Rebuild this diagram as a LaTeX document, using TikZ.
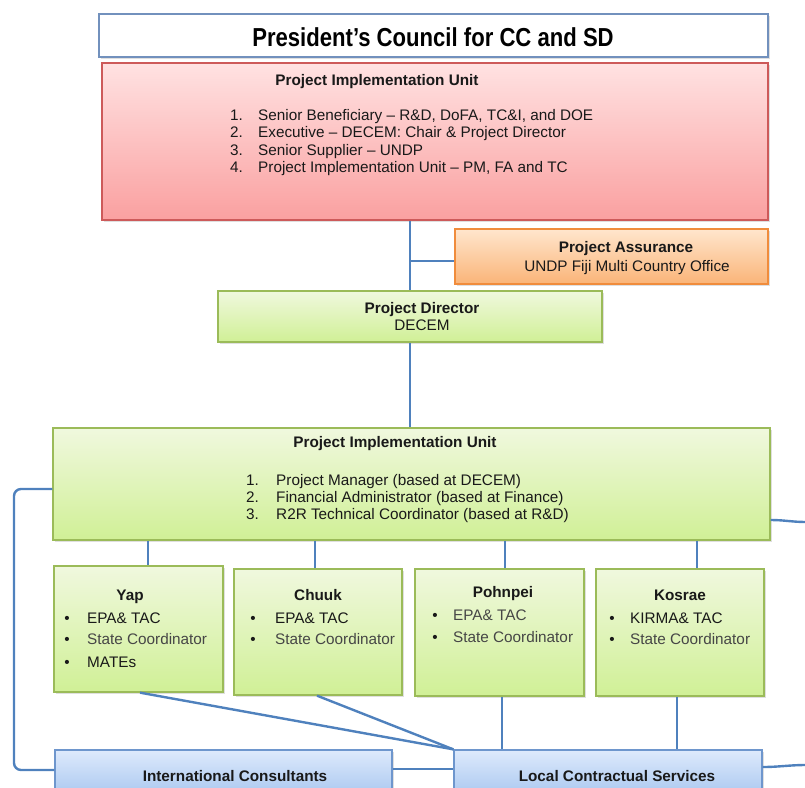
\documentclass[tikz,border=0pt]{standalone}
\usepackage{fontspec}
\setmainfont{Liberation Sans}
\newfontfamily\titlefont[FakeStretch=0.85]{Liberation Sans}
\usetikzlibrary{shadows}
\definecolor{linkblue}{RGB}{79,129,189}
\definecolor{grnborder}{RGB}{155,187,89}
\definecolor{grntop}{RGB}{240,248,222}
\definecolor{grnbot}{RGB}{208,240,150}
\definecolor{redborder}{RGB}{205,90,90}
\definecolor{redtop}{RGB}{255,226,226}
\definecolor{redbot}{RGB}{250,160,160}
\definecolor{orgborder}{RGB}{240,140,60}
\definecolor{orgtop}{RGB}{255,230,205}
\definecolor{orgbot}{RGB}{250,180,120}
\definecolor{bluborder}{RGB}{110,150,205}
\definecolor{blutop}{RGB}{222,234,252}
\definecolor{blubot}{RGB}{170,200,240}
\definecolor{txt}{RGB}{25,25,25}
\definecolor{txtgray}{RGB}{70,70,70}
\tikzset{
  x=1pt, y=-1pt,
  boxbase/.style={rectangle, inner sep=0pt, line width=1.3pt, drop shadow={shadow xshift=1.5pt, shadow yshift=-2pt, opacity=0.25}},
  whitebox/.style={boxbase, draw=bluborder!80!gray, fill=white, line width=1.6pt},
  redbox/.style={boxbase, draw=redborder, top color=redtop, bottom color=redbot},
  orgbox/.style={boxbase, draw=orgborder, top color=orgtop, bottom color=orgbot},
  grnbox/.style={boxbase, draw=grnborder, top color=grntop, bottom color=grnbot},
  blubox/.style={boxbase, draw=bluborder, top color=blutop, bottom color=blubot},
  link/.style={draw=linkblue, line width=2.4pt},
  hd/.style={font=\fontsize{15.3}{18}\selectfont\bfseries, text=txt, inner sep=0pt, anchor=base},
  tx/.style={font=\fontsize{15.3}{18}\selectfont, text=txt, inner sep=0pt, anchor=base},
  txg/.style={font=\fontsize{15.3}{18}\selectfont, text=txtgray, inner sep=0pt, anchor=base},
  lft/.style={anchor=base west},
}
\begin{document}
\begin{tikzpicture}
\useasboundingbox (0,0) rectangle (805,787);
\clip (0,0) rectangle (805,787);

% boxes
\node[whitebox, minimum width=669pt, minimum height=43pt] (pc) at (433.5,35.5) {};
\node[redbox, minimum width=666pt, minimum height=157pt] (pib) at (435,141.5) {};
\node[orgbox, minimum width=313pt, minimum height=55pt] (pa) at (611.5,256.5) {};
\node[grnbox, minimum width=384pt, minimum height=51pt] (pd) at (410,316.5) {};
\node[grnbox, minimum width=717pt, minimum height=112pt] (piu) at (411.5,484) {};
\node[grnbox, minimum width=169pt, minimum height=126pt] (yap) at (138.5,629) {};
\node[grnbox, minimum width=168pt, minimum height=126pt] (chk) at (318,632) {};
\node[grnbox, minimum width=169pt, minimum height=127pt] (poh) at (499.5,632.5) {};
\node[grnbox, minimum width=168pt, minimum height=127pt] (kos) at (680,632.5) {};
\node[blubox, minimum width=337pt, minimum height=45pt] (ic) at (223.5,772.5) {};
\node[blubox, minimum width=308pt, minimum height=45pt] (lcs) at (608,772.5) {};

% connectors
\draw[link] (pd.north |- pib.south) -- (pd.north);
\draw[link] (pd.north |- 0,261) -- (pa.west |- 0,261);
\draw[link] (pd.south) -- (pd.south |- piu.north);
\draw[link] (148,0 |- piu.south) -- (148,0 |- yap.north);
\draw[link] (315,0 |- piu.south) -- (315,0 |- chk.north);
\draw[link] (505,0 |- piu.south) -- (505,0 |- poh.north);
\draw[link] (697,0 |- piu.south) -- (697,0 |- kos.north);
\draw[link] (140,0 |- yap.south) -- (lcs.north west);
\draw[link] (317,0 |- chk.south) -- (lcs.north west);
\draw[link] (502,0 |- poh.south) -- (502,0 |- lcs.north);
\draw[link] (677,0 |- kos.south) -- (677,0 |- lcs.north);
\draw[link] (ic.east |- 0,769) -- (lcs.west |- 0,769);
\coordinate (lc1) at (14,489);
\coordinate (lc2) at (14,770);
\draw[link, rounded corners=7pt] (piu.west |- lc1) -- (lc1) -- (lc2) -- (ic.west |- lc2);
\coordinate (r1) at (806,522);
\coordinate (r2) at (806,765);
\draw[link] (piu.east |- 0,520) to[out=0, in=180] (r1);
\draw[link] (lcs.east |- 0,767) to[out=0, in=180] (r2);

% texts
\node[font=\titlefont\fontsize{26}{30}\selectfont\bfseries, text=black, inner sep=0pt, anchor=base] (pct) at (433,46) {President’s Council for CC and SD};

\node[hd] (pibt) at (377,85.5) {Project Implementation Unit};
\node[tx, lft] (pib1n) at (230,120.5) {1.};
\node[tx, lft] (pib1) at (258,120.5) {Senior Beneficiary – R\&D, DoFA, TC\&I, and DOE};
\node[tx, lft] (pib2n) at (230,137.7) {2.};
\node[tx, lft] (pib2) at (258,137.7) {Executive – DECEM: Chair \& Project Director};
\node[tx, lft] (pib3n) at (230,155) {3.};
\node[tx, lft] (pib3) at (258,155) {Senior Supplier – UNDP};
\node[tx, lft] (pib4n) at (230,172.2) {4.};
\node[tx, lft] (pib4) at (258,172.2) {Project Implementation Unit – PM, FA and TC};

\node[hd] (pat) at (626,252.5) {Project Assurance};
\node[tx] (pas) at (627,271.5) {UNDP Fiji Multi Country Office};

\node[hd] (pdt) at (422,313.5) {Project Director};
\node[tx] (pds) at (422,330.5) {DECEM};

\node[hd] (piut) at (395,447.5) {Project Implementation Unit};
\node[tx, lft] (piu1n) at (246,485.5) {1.};
\node[tx, lft] (piu1) at (276,485.5) {Project Manager (based at DECEM)};
\node[tx, lft] (piu2n) at (246,502.5) {2.};
\node[tx, lft] (piu2) at (276,502.5) {Financial Administrator (based at Finance)};
\node[tx, lft] (piu3n) at (246,519.5) {3.};
\node[tx, lft] (piu3) at (276,519.5) {R2R Technical Coordinator (based at R\&D)};

% Yap
\node[hd] (yapt) at (130,600.5) {Yap};
\node[tx] (yapb1) at (67,623.5) {•};
\node[tx, lft] (yap1) at (87,623.5) {EPA\& TAC};
\node[tx] (yapb2) at (67,644.5) {•};
\node[txg, lft] (yap2) at (87,644.5) {State Coordinator};
\node[tx] (yapb3) at (67,667.5) {•};
\node[tx, lft] (yap3) at (87,667.5) {MATEs};
% Chuuk
\node[hd] (chkt) at (318,600.5) {Chuuk};
\node[tx] (chkb1) at (253,623.5) {•};
\node[tx, lft] (chk1) at (275,623.5) {EPA\& TAC};
\node[tx] (chkb2) at (253,644.5) {•};
\node[txg, lft] (chk2) at (275,644.5) {State Coordinator};
% Pohnpei
\node[hd] (poht) at (503,597.5) {Pohnpei};
\node[tx] (pohb1) at (435,620.5) {•};
\node[txg, lft] (poh1) at (453,620.5) {EPA\& TAC};
\node[tx] (pohb2) at (435,642.5) {•};
\node[txg, lft] (poh2) at (453,642.5) {State Coordinator};
% Kosrae
\node[hd] (kost) at (680,600.5) {Kosrae};
\node[tx] (kosb1) at (612,623.5) {•};
\node[tx, lft] (kos1) at (630,623.5) {KIRMA\& TAC};
\node[tx] (kosb2) at (612,644.5) {•};
\node[txg, lft] (kos2) at (630,644.5) {State Coordinator};

\node[hd] (ict) at (235,781.5) {International Consultants};
\node[hd] (lcst) at (617,781.5) {Local Contractual Services};
\end{tikzpicture}
\end{document}
